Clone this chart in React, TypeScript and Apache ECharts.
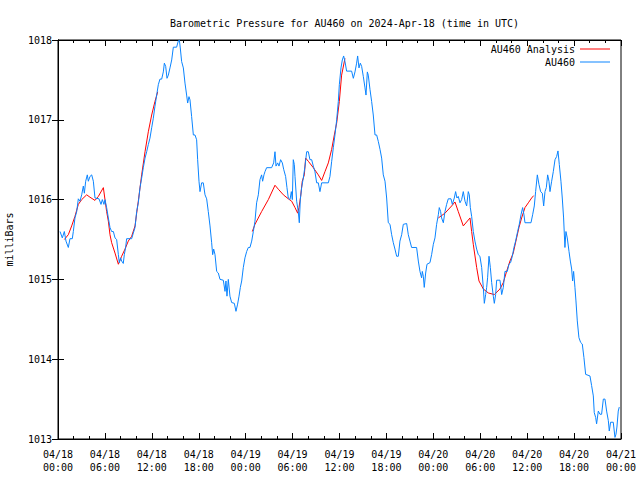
import React, { useEffect, useRef } from "react";
import * as echarts from "echarts";

const titleText = "Barometric Pressure for AU460 on 2024-Apr-18 (time in UTC)";
const yAxisName = "milliBars";
const seriesNames = ["AU460 Analysis", "AU460"];
const startDay = 18;
const monthLabel = "04";

// Observed pressure (hours since 2024-04-18 00:00 UTC, millibars)
const obsHours = [
  0.26, 0.55, 0.81, 1.02, 1.32, 1.53, 1.83, 1.96, 2.17, 2.39, 2.6, 2.81, 3.03, 3.24, 3.37, 3.54, 3.75, 3.88, 4.09, 4.31,
  4.52, 4.73, 5.24, 5.5, 5.67, 5.88, 6.01, 6.22, 6.44, 6.65, 6.86, 7.08, 7.29, 7.5, 7.72, 7.84, 8.01, 8.14, 8.35, 8.48,
  8.65, 8.78, 9.42, 9.63, 9.85, 10.06, 10.27, 10.49, 10.7, 10.91, 11.13, 11.34, 11.55, 11.76, 11.98, 12.19, 12.4, 12.62,
  12.83, 13.04, 13.26, 13.47, 13.6, 13.77, 13.94, 14.11, 14.32, 14.54, 14.75, 15.17, 15.39, 15.52, 15.64, 15.81, 16.03,
  16.24, 16.45, 16.58, 16.75, 16.88, 17.09, 17.31, 17.52, 17.73, 17.86, 18.03, 18.16, 18.37, 18.58, 18.8, 19.01, 19.22,
  19.44, 19.65, 19.78, 19.91, 20.08, 20.29, 20.5, 20.72, 21.14, 21.36, 21.48, 21.61, 21.78, 21.99, 22.21, 22.55, 22.76,
  22.97, 23.15, 23.32, 23.49, 23.7, 23.91, 24.13, 24.34, 24.55, 24.77, 24.98, 25.19, 25.4, 25.62, 25.83, 26.04, 26.17,
  26.34, 26.47, 26.68, 27.32, 27.58, 27.75, 27.88, 28.09, 28.26, 28.47, 28.69, 28.86, 29.11, 29.28, 29.45, 29.67, 29.84,
  29.97, 30.09, 30.22, 30.31, 30.52, 30.73, 30.86, 30.99, 31.16, 31.37, 31.59, 31.8, 32.01, 32.22, 32.44, 32.65, 32.86,
  33.08, 33.29, 33.5, 33.72, 34.57, 34.78, 35.0, 35.21, 35.42, 35.64, 35.85, 35.98, 36.06, 36.19, 36.36, 36.53, 36.7,
  36.91, 37.55, 37.77, 37.98, 38.19, 38.32, 38.49, 38.66, 38.83, 39.05, 39.26, 39.39, 39.56, 39.68, 39.9, 40.11, 40.32,
  40.54, 40.75, 40.96, 41.18, 41.39, 41.6, 41.82, 42.03, 42.24, 42.46, 42.67, 42.88, 43.09, 43.31, 43.52, 43.73, 43.95,
  44.16, 44.59, 44.8, 45.01, 45.22, 45.86, 46.08, 46.29, 46.5, 46.59, 46.72, 46.84, 47.02, 47.19, 47.57, 47.78, 48.0,
  48.21, 48.42, 48.64, 48.76, 48.93, 49.06, 49.28, 49.49, 49.7, 49.91, 50.26, 50.43, 50.68, 50.85, 51.02, 51.19, 51.41,
  51.62, 51.83, 52.05, 52.26, 52.47, 52.6, 52.73, 52.9, 53.11, 53.32, 53.54, 53.75, 53.96, 54.18, 54.39, 54.52, 54.69,
  54.82, 54.94, 55.12, 55.29, 55.46, 55.67, 55.8, 55.97, 56.1, 56.52, 56.74, 56.95, 57.16, 57.46, 57.67, 57.88, 58.1,
  58.31, 58.52, 58.78, 58.99, 59.21, 59.42, 59.59, 59.72, 60.49, 60.7, 60.91, 61.08, 61.3, 61.51, 61.72, 61.94, 62.11,
  62.28, 62.45, 62.62, 62.79, 62.92, 63.13, 63.34, 63.56, 63.77, 63.94, 64.11, 64.32, 64.49, 64.66, 64.83, 64.96, 65.13,
  65.35, 65.52, 65.69, 65.81, 65.94, 66.11, 66.24, 66.41, 66.62, 66.84, 67.05, 67.26, 67.48, 68.03, 68.24, 68.46, 68.58,
  68.76, 68.88, 69.1, 69.31, 69.52, 69.74, 69.95, 70.16, 70.38, 70.5, 70.67, 71.01, 71.23, 71.36, 71.48, 71.65, 71.78,
];
const obsValues = [
  1015.6, 1015.52, 1015.6, 1015.48, 1015.4, 1015.51, 1015.51, 1015.6, 1015.77, 1015.85, 1016.01, 1015.98, 1016.06, 1016.17,
  1016.08, 1016.23, 1016.31, 1016.23, 1016.29, 1016.31, 1016.23, 1016.02, 1016.01, 1015.94, 1016.0, 1015.94, 1016.0,
  1015.9, 1015.77, 1015.65, 1015.6, 1015.6, 1015.52, 1015.5, 1015.31, 1015.21, 1015.27, 1015.23, 1015.2, 1015.31, 1015.4,
  1015.51, 1015.51, 1015.58, 1015.65, 1015.85, 1015.96, 1016.15, 1016.27, 1016.4, 1016.52, 1016.6, 1016.69, 1016.77,
  1016.9, 1017.02, 1017.17, 1017.31, 1017.44, 1017.51, 1017.51, 1017.6, 1017.71, 1017.67, 1017.52, 1017.56, 1017.65,
  1017.75, 1017.91, 1017.91, 1017.99, 1018.0, 1017.9, 1017.73, 1017.65, 1017.46, 1017.31, 1017.21, 1017.29, 1017.25,
  1017.04, 1016.81, 1016.81, 1016.75, 1016.5, 1016.23, 1016.1, 1016.21, 1016.21, 1016.06, 1016.01, 1015.85, 1015.67,
  1015.46, 1015.31, 1015.38, 1015.31, 1015.1, 1015.08, 1015.0, 1014.99, 1014.85, 1014.98, 1014.79, 1015.0, 1014.79,
  1014.71, 1014.7, 1014.6, 1014.69, 1014.79, 1014.9, 1014.98, 1015.15, 1015.27, 1015.35, 1015.4, 1015.4, 1015.48, 1015.6,
  1015.73, 1015.96, 1016.06, 1016.25, 1016.31, 1016.23, 1016.31, 1016.35, 1016.4, 1016.4, 1016.46, 1016.6, 1016.42,
  1016.46, 1016.42, 1016.5, 1016.46, 1016.38, 1016.29, 1016.15, 1016.02, 1016.0, 1016.1, 1016.0, 1016.5, 1016.44,
  1016.29, 1015.98, 1015.85, 1015.71, 1016.0, 1016.15, 1016.27, 1016.42, 1016.6, 1016.6, 1016.5, 1016.5, 1016.42,
  1016.35, 1016.21, 1016.21, 1016.1, 1016.21, 1016.21, 1016.29, 1016.48, 1016.65, 1016.81, 1017.0, 1017.23, 1017.44,
  1017.44, 1017.65, 1017.75, 1017.8, 1017.73, 1017.61, 1017.61, 1017.52, 1017.6, 1017.71, 1017.8, 1017.65, 1017.71,
  1017.67, 1017.54, 1017.4, 1017.31, 1017.6, 1017.56, 1017.38, 1017.23, 1017.06, 1016.81, 1016.81, 1016.73, 1016.63,
  1016.52, 1016.31, 1016.23, 1016.02, 1015.71, 1015.69, 1015.56, 1015.46, 1015.38, 1015.29, 1015.29, 1015.48, 1015.56,
  1015.69, 1015.7, 1015.56, 1015.48, 1015.4, 1015.4, 1015.23, 1015.1, 1015.02, 1015.1, 1015.04, 1014.9, 1015.08, 1015.19,
  1015.21, 1015.31, 1015.44, 1015.52, 1015.69, 1015.81, 1015.9, 1015.85, 1015.77, 1015.71, 1015.85, 1015.94, 1016.01,
  1016.01, 1015.94, 1016.02, 1016.1, 1016.02, 1016.04, 1015.96, 1016.0, 1016.1, 1015.98, 1015.92, 1016.1, 1016.06,
  1015.9, 1015.79, 1015.6, 1015.48, 1015.38, 1015.31, 1015.29, 1015.15, 1014.9, 1014.7, 1014.81, 1014.9, 1015.02,
  1015.29, 1015.15, 1014.96, 1014.79, 1014.7, 1014.81, 1014.99, 1014.99, 1014.81, 1014.9, 1015.1, 1015.1, 1015.19,
  1015.21, 1015.29, 1015.4, 1015.48, 1015.6, 1015.69, 1015.81, 1015.9, 1015.81, 1015.71, 1015.71, 1015.81, 1015.92,
  1016.1, 1016.31, 1016.19, 1016.1, 1016.08, 1015.92, 1016.1, 1016.15, 1016.31, 1016.23, 1016.1, 1016.23, 1016.35,
  1016.5, 1016.54, 1016.61, 1016.44, 1016.23, 1016.02, 1015.77, 1015.4, 1015.6, 1015.52, 1015.35, 1015.23, 1015.13,
  1014.98, 1015.1, 1014.9, 1014.73, 1014.48, 1014.27, 1014.21, 1014.19, 1014.02, 1013.81, 1013.79, 1013.67, 1013.54,
  1013.33, 1013.27, 1013.19, 1013.35, 1013.31, 1013.31, 1013.5, 1013.5, 1013.35, 1013.23, 1013.1, 1013.21, 1013.21,
  1013.02, 1013.06, 1013.15, 1013.35, 1013.4,
];

// Analysis (null = gap in the analysis line)
const analysisHours = [
  0.81, 1.32, 1.75, 2.17, 2.6, 3.03, 3.67, 4.09, 4.73, 5.16, 5.8, 6.01, 6.22, 6.44, 6.65, 6.86, 7.29, 7.72, 8.14, 8.57,
  8.99, 9.42, 9.85, 10.06, 10.27, 10.7, 11.13, 11.55, 11.98, 12.4, 12.75, 18.0,
  24.85, 25.19, 26.04, 26.9, 27.75, 28.18, 28.82, 29.45, 29.88, 30.31, 30.65, 30.82, 31.03, 31.24, 31.5, 31.67, 32.01,
  32.65, 33.29, 33.72, 34.14, 34.57, 35.0, 35.34, 35.64, 35.98, 36.27, 36.7, 42.0,
  48.64, 49.49, 50.34, 50.77, 51.19, 51.83, 52.69, 52.9, 53.11, 53.54, 53.84, 54.39, 55.03, 55.8, 56.52, 56.95, 57.37,
  57.8, 58.22, 58.65, 58.95, 59.29, 59.72, 60.15, 60.57, 60.83,
];
const analysisValues = [
  1015.5, 1015.56, 1015.67, 1015.79, 1015.94, 1016.0, 1016.06, 1016.03, 1015.99, 1016.04, 1016.15, 1016.0, 1015.85,
  1015.73, 1015.56, 1015.46, 1015.33, 1015.19, 1015.29, 1015.38, 1015.48, 1015.54, 1015.67, 1015.83, 1015.98, 1016.31,
  1016.6, 1016.85, 1017.06, 1017.23, 1017.35, null,
  1015.6, 1015.69, 1015.85, 1016.0, 1016.18, 1016.13, 1016.06, 1016.01, 1015.98, 1015.9, 1015.83, 1015.9, 1016.04,
  1016.23, 1016.31, 1016.52, 1016.48, 1016.4, 1016.31, 1016.24, 1016.35, 1016.46, 1016.63, 1016.81, 1016.96, 1017.23,
  1017.56, 1017.77, null,
  1015.77, 1015.83, 1015.92, 1015.97, 1015.85, 1015.67, 1015.77, 1015.6, 1015.44, 1015.15, 1014.98, 1014.88, 1014.83,
  1014.81, 1014.88, 1014.96, 1015.1, 1015.23, 1015.33, 1015.52, 1015.65, 1015.77, 1015.9, 1015.96, 1016.02, 1016.05,
];

const FONT = "'DejaVu Sans Mono', 'Liberation Mono', monospace";

function hourLabel(v: number): string {
  const day = startDay + Math.floor(v / 24);
  const hr = Math.round(v % 24);
  const dd = String(day).padStart(2, "0");
  const hh = String(hr).padStart(2, "0");
  return `${monthLabel}/${dd}\n${hh}:00`;
}

export default function App() {
  const ref = useRef<HTMLDivElement>(null);
  useEffect(() => {
    if (!ref.current) return;
    const chart = echarts.init(ref.current, null, { renderer: "svg" });
    const obsData = obsHours.map((h, i) => [h, obsValues[i]]);
    const anaData = analysisHours.map((h, i) => [h, analysisValues[i] === null ? "-" : analysisValues[i]]);
    const xCommon = {
      type: "value" as const,
      min: 0,
      max: 72,
      interval: 6,
      splitLine: { show: false },
      axisLine: { show: true, lineStyle: { color: "#000", width: 1 } },
      axisTick: { show: true, inside: true, length: 6, lineStyle: { color: "#000" } },
      minorTick: { show: true, splitNumber: 3, length: 3, lineStyle: { color: "#000" } },
    };
    const yCommon = {
      type: "value" as const,
      min: 1013,
      max: 1018,
      interval: 1,
      splitLine: { show: false },
      axisLine: { show: true, lineStyle: { color: "#000", width: 1 } },
      axisTick: { show: true, inside: true, length: 6, lineStyle: { color: "#000" } },
    };
    chart.setOption({
      animation: false,
      backgroundColor: "#fff",
      title: {
        text: titleText,
        left: 339.5,
        top: 13,
        textAlign: "center",
        textStyle: { fontFamily: FONT, fontSize: 10, fontWeight: "normal", color: "#000" },
      },
      legend: {
        data: seriesNames.map((n) => ({ name: n, icon: "rect" })),
        orient: "vertical",
        right: 30,
        top: 43,
        padding: 0,
        align: "right",
        itemWidth: 30,
        itemHeight: 1,
        itemGap: 1,
        textStyle: { fontFamily: FONT, fontSize: 10, color: "#000", lineHeight: 12 },
      },
      grid: {
        left: 58,
        right: 19,
        top: 40,
        bottom: 41,
        show: true,
        borderColor: "#000",
        borderWidth: 1,
        containLabel: false,
        outerBoundsMode: "none",
      },
      xAxis: [
        {
          ...xCommon,
          position: "bottom",
          axisLabel: {
            show: true,
            formatter: hourLabel,
            fontFamily: FONT,
            fontSize: 10,
            color: "#000",
            lineHeight: 13,
            margin: 9,
          },
        },
        { ...xCommon, position: "top", axisLabel: { show: false } },
      ],
      yAxis: [
        {
          ...yCommon,
          position: "left",
          name: yAxisName,
          nameLocation: "middle",
          nameRotate: 90,
          nameGap: 44,
          nameTextStyle: { fontFamily: FONT, fontSize: 10, color: "#000" },
          axisLabel: {
            show: true,
            fontFamily: FONT,
            fontSize: 10,
            color: "#000",
            margin: 6,
            formatter: (v: number) => String(v),
          },
        },
        { ...yCommon, position: "right", axisLabel: { show: false } },
      ],
      series: [
        {
          name: seriesNames[0],
          type: "line",
          data: anaData,
          symbol: "none",
          connectNulls: false,
          lineStyle: { color: "#ff0000", width: 1 },
          itemStyle: { color: "#ff0000" },
        },
        {
          name: seriesNames[1],
          type: "line",
          data: obsData,
          symbol: "none",
          lineStyle: { color: "#0a84ff", width: 1 },
          itemStyle: { color: "#0a84ff" },
        },
      ],
    });
    return () => chart.dispose();
  }, []);
  return <div ref={ref} style={{ width: 640, height: 480, position: "absolute", left: 0, top: 0 }} />;
}
